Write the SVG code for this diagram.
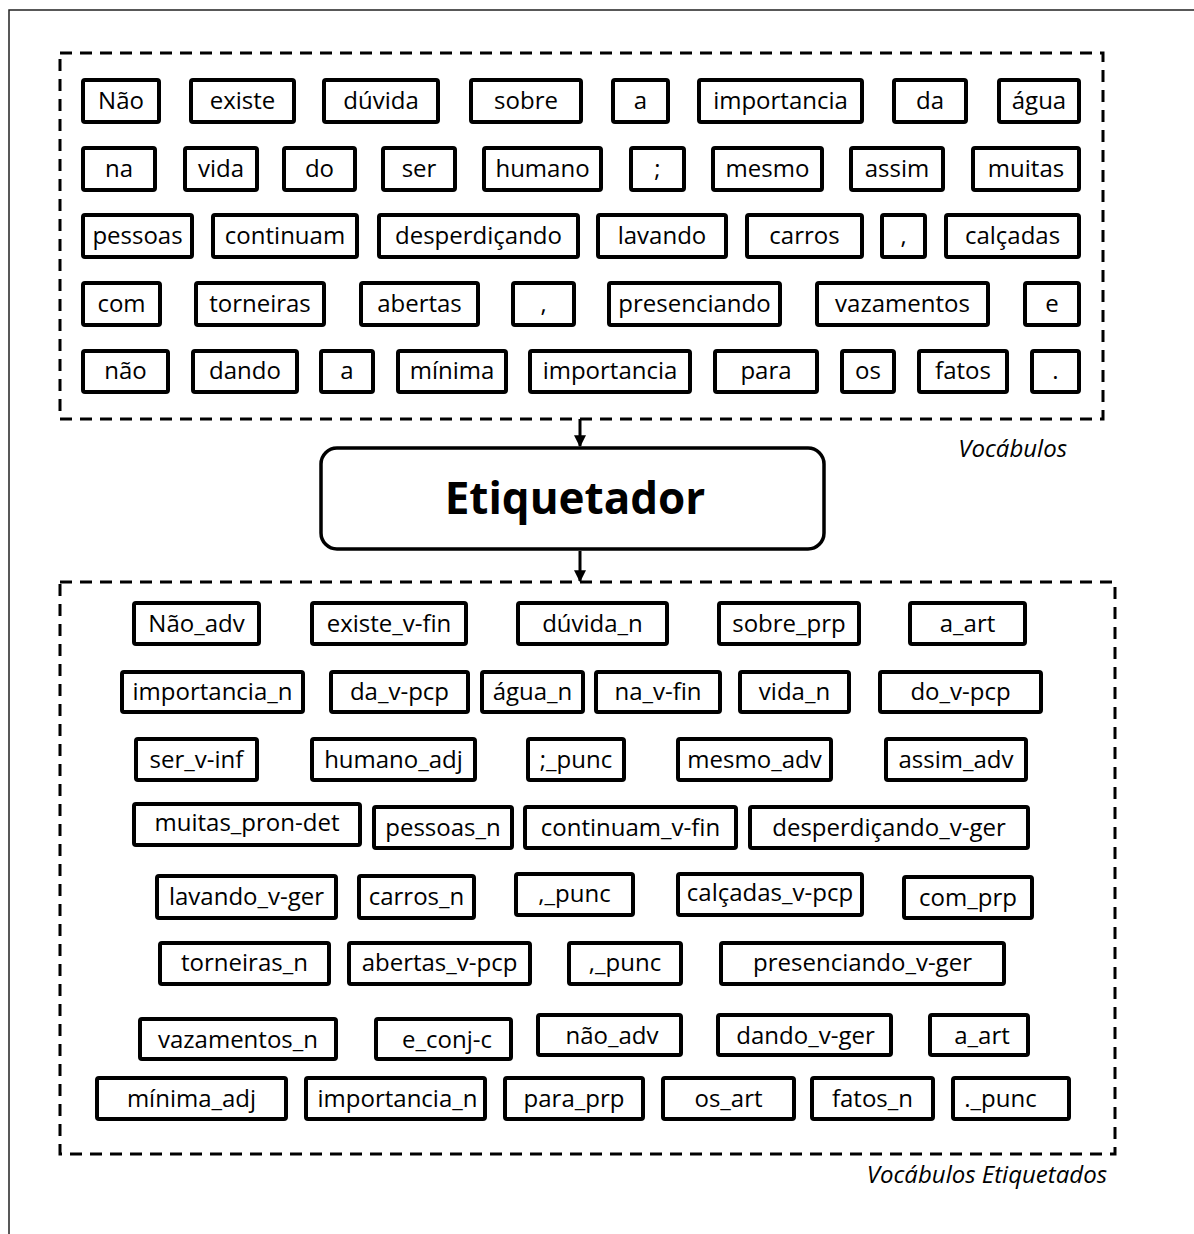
<svg xmlns="http://www.w3.org/2000/svg" width="1194" height="1234" viewBox="0 0 1194 1234">
  <style>
    .frame { fill: none; stroke: #222; stroke-width: 1.5; }
    .group-box { fill: none; stroke: #000; stroke-width: 3; stroke-dasharray: 12 8; }
    .word rect { fill: #fff; stroke: #000; stroke-width: 4; }
    .word text { font-family: "Open Sans", "Liberation Sans", sans-serif; font-size: 24px; fill: #000; text-anchor: middle; }
    .tagger rect { fill: #fff; stroke: #000; stroke-width: 3.5; }
    .tagger text { font-family: "Open Sans", "Liberation Sans", sans-serif; font-size: 44px; font-weight: bold; fill: #000; text-anchor: middle; }
    .caption { font-family: "Open Sans", "Liberation Sans", sans-serif; font-size: 24px; font-style: italic; fill: #000; text-anchor: end; }
    .flow { stroke: #000; stroke-width: 3; fill: none; marker-end: url(#arrow); }
  </style>
  <defs>
    <marker id="arrow" viewBox="0 0 10 10" refX="9" refY="5" markerWidth="4" markerHeight="4" orient="auto" markerUnits="strokeWidth">
      <path d="M0,0 L10,5 L0,10 z" fill="#000"/>
    </marker>
  </defs>

  <rect width="1194" height="1234" fill="#fff"/>
  <!-- page frame -->
  <path class="frame" d="M9,1234 V10 H1194"/>

  <!-- input word group -->
  <g id="vocabulos">
    <rect class="group-box" x="60" y="53" width="1043" height="366"/>
    <text class="caption" x="1067" y="457">Vocábulos</text>

    <!-- row 1 -->
    <g id="w-nao" class="word"><rect x="83" y="80" width="76" height="42" rx="2"/><text x="121" y="109">Não</text></g>
    <g id="w-existe" class="word"><rect x="191" y="80" width="103" height="42" rx="2"/><text x="242.5" y="109">existe</text></g>
    <g id="w-duvida" class="word"><rect x="324" y="80" width="114" height="42" rx="2"/><text x="381" y="109">dúvida</text></g>
    <g id="w-sobre" class="word"><rect x="471" y="80" width="110" height="42" rx="2"/><text x="526" y="109">sobre</text></g>
    <g id="w-a1" class="word"><rect x="613" y="80" width="55" height="42" rx="2"/><text x="640.5" y="109">a</text></g>
    <g id="w-importancia1" class="word"><rect x="699" y="80" width="163" height="42" rx="2"/><text x="780.5" y="109">importancia</text></g>
    <g id="w-da" class="word"><rect x="894" y="80" width="72" height="42" rx="2"/><text x="930" y="109">da</text></g>
    <g id="w-agua" class="word"><rect x="999" y="80" width="80" height="42" rx="2"/><text x="1039" y="109">água</text></g>

    <!-- row 2 -->
    <g id="w-na" class="word"><rect x="83" y="148" width="72" height="42" rx="2"/><text x="119" y="177">na</text></g>
    <g id="w-vida" class="word"><rect x="185" y="148" width="72" height="42" rx="2"/><text x="221" y="177">vida</text></g>
    <g id="w-do" class="word"><rect x="284" y="148" width="71" height="42" rx="2"/><text x="319.5" y="177">do</text></g>
    <g id="w-ser" class="word"><rect x="383" y="148" width="72" height="42" rx="2"/><text x="419" y="177">ser</text></g>
    <g id="w-humano" class="word"><rect x="484" y="148" width="117" height="42" rx="2"/><text x="542.5" y="177">humano</text></g>
    <g id="w-semicolon" class="word"><rect x="631" y="148" width="53" height="42" rx="2"/><text x="657.5" y="177">;</text></g>
    <g id="w-mesmo" class="word"><rect x="713" y="148" width="109" height="42" rx="2"/><text x="767.5" y="177">mesmo</text></g>
    <g id="w-assim" class="word"><rect x="851" y="148" width="92" height="42" rx="2"/><text x="897" y="177">assim</text></g>
    <g id="w-muitas" class="word"><rect x="973" y="148" width="106" height="42" rx="2"/><text x="1026" y="177">muitas</text></g>

    <!-- row 3 -->
    <g id="w-pessoas" class="word"><rect x="83" y="215" width="109" height="42" rx="2"/><text x="137.5" y="244">pessoas</text></g>
    <g id="w-continuam" class="word"><rect x="213" y="215" width="144" height="42" rx="2"/><text x="285" y="244">continuam</text></g>
    <g id="w-desperdicando" class="word"><rect x="379" y="215" width="199" height="42" rx="2"/><text x="478.5" y="244">desperdiçando</text></g>
    <g id="w-lavando" class="word"><rect x="598" y="215" width="128" height="42" rx="2"/><text x="662" y="244">lavando</text></g>
    <g id="w-carros" class="word"><rect x="747" y="215" width="115" height="42" rx="2"/><text x="804.5" y="244">carros</text></g>
    <g id="w-comma1" class="word"><rect x="882" y="215" width="43" height="42" rx="2"/><text x="903.5" y="244">,</text></g>
    <g id="w-calcadas" class="word"><rect x="946" y="215" width="133" height="42" rx="2"/><text x="1012.5" y="244">calçadas</text></g>

    <!-- row 4 -->
    <g id="w-com" class="word"><rect x="83" y="283" width="77" height="42" rx="2"/><text x="121.5" y="312">com</text></g>
    <g id="w-torneiras" class="word"><rect x="196" y="283" width="128" height="42" rx="2"/><text x="260" y="312">torneiras</text></g>
    <g id="w-abertas" class="word"><rect x="361" y="283" width="117" height="42" rx="2"/><text x="419.5" y="312">abertas</text></g>
    <g id="w-comma2" class="word"><rect x="513" y="283" width="61" height="42" rx="2"/><text x="543.5" y="312">,</text></g>
    <g id="w-presenciando" class="word"><rect x="609" y="283" width="171" height="42" rx="2"/><text x="694.5" y="312">presenciando</text></g>
    <g id="w-vazamentos" class="word"><rect x="817" y="283" width="171" height="42" rx="2"/><text x="902.5" y="312">vazamentos</text></g>
    <g id="w-e" class="word"><rect x="1025" y="283" width="54" height="42" rx="2"/><text x="1052" y="312">e</text></g>

    <!-- row 5 -->
    <g id="w-nao2" class="word"><rect x="83" y="351" width="85" height="41" rx="2"/><text x="125.5" y="379">não</text></g>
    <g id="w-dando" class="word"><rect x="193" y="351" width="104" height="41" rx="2"/><text x="245" y="379">dando</text></g>
    <g id="w-a2" class="word"><rect x="321" y="351" width="52" height="41" rx="2"/><text x="347" y="379">a</text></g>
    <g id="w-minima" class="word"><rect x="398" y="351" width="108" height="41" rx="2"/><text x="452" y="379">mínima</text></g>
    <g id="w-importancia2" class="word"><rect x="530" y="351" width="160" height="41" rx="2"/><text x="610" y="379">importancia</text></g>
    <g id="w-para" class="word"><rect x="715" y="351" width="102" height="41" rx="2"/><text x="766" y="379">para</text></g>
    <g id="w-os" class="word"><rect x="842" y="351" width="52" height="41" rx="2"/><text x="868" y="379">os</text></g>
    <g id="w-fatos" class="word"><rect x="919" y="351" width="88" height="41" rx="2"/><text x="963" y="379">fatos</text></g>
    <g id="w-period" class="word"><rect x="1032" y="351" width="47" height="41" rx="2"/><text x="1055.5" y="379">.</text></g>
  </g>

  <!-- tagger -->
  <g id="etiquetador" class="tagger">
    <rect x="321" y="448" width="503" height="101" rx="16"/>
    <text x="575" y="514">Etiquetador</text>
  </g>

  <!-- tagged word group -->
  <g id="vocabulos-etiquetados">
    <rect class="group-box" x="60" y="582" width="1055" height="572"/>
    <text class="caption" x="1107" y="1183">Vocábulos Etiquetados</text>

    <!-- row 1 -->
    <g id="t-nao" class="word"><rect x="134" y="603" width="125" height="41" rx="2"/><text x="196.5" y="632">Não_adv</text></g>
    <g id="t-existe" class="word"><rect x="312" y="603" width="154" height="41" rx="2"/><text x="389" y="632">existe_v-fin</text></g>
    <g id="t-duvida" class="word"><rect x="518" y="603" width="149" height="41" rx="2"/><text x="592.5" y="632">dúvida_n</text></g>
    <g id="t-sobre" class="word"><rect x="719" y="603" width="140" height="41" rx="2"/><text x="789" y="632">sobre_prp</text></g>
    <g id="t-a1" class="word"><rect x="910" y="603" width="115" height="41" rx="2"/><text x="967.5" y="632">a_art</text></g>

    <!-- row 2 -->
    <g id="t-importancia1" class="word"><rect x="122" y="672" width="181" height="40" rx="2"/><text x="212.5" y="700">importancia_n</text></g>
    <g id="t-da" class="word"><rect x="331" y="672" width="137" height="40" rx="2"/><text x="399.5" y="700">da_v-pcp</text></g>
    <g id="t-agua" class="word"><rect x="482" y="672" width="101" height="40" rx="2"/><text x="532.5" y="700">água_n</text></g>
    <g id="t-na" class="word"><rect x="596" y="672" width="124" height="40" rx="2"/><text x="658" y="700">na_v-fin</text></g>
    <g id="t-vida" class="word"><rect x="740" y="672" width="109" height="40" rx="2"/><text x="794.5" y="700">vida_n</text></g>
    <g id="t-do" class="word"><rect x="880" y="672" width="161" height="40" rx="2"/><text x="960.5" y="700">do_v-pcp</text></g>

    <!-- row 3 -->
    <g id="t-ser" class="word"><rect x="136" y="739" width="121" height="41" rx="2"/><text x="196.5" y="768">ser_v-inf</text></g>
    <g id="t-humano" class="word"><rect x="312" y="739" width="163" height="41" rx="2"/><text x="393.5" y="768">humano_adj</text></g>
    <g id="t-semicolon" class="word"><rect x="528" y="739" width="96" height="41" rx="2"/><text x="576" y="768">;_punc</text></g>
    <g id="t-mesmo" class="word"><rect x="678" y="739" width="153" height="41" rx="2"/><text x="754.5" y="768">mesmo_adv</text></g>
    <g id="t-assim" class="word"><rect x="886" y="739" width="140" height="41" rx="2"/><text x="956" y="768">assim_adv</text></g>

    <!-- row 4 -->
    <g id="t-muitas" class="word"><rect x="134" y="804" width="226" height="41" rx="2"/><text x="247" y="831">muitas_pron-det</text></g>
    <g id="t-pessoas" class="word"><rect x="374" y="807" width="138" height="41" rx="2"/><text x="443" y="836">pessoas_n</text></g>
    <g id="t-continuam" class="word"><rect x="525" y="807" width="211" height="41" rx="2"/><text x="630.5" y="836">continuam_v-fin</text></g>
    <g id="t-desperdicando" class="word"><rect x="750" y="807" width="278" height="41" rx="2"/><text x="889" y="836">desperdiçando_v-ger</text></g>

    <!-- row 5 -->
    <g id="t-lavando" class="word"><rect x="157" y="876" width="179" height="42" rx="2"/><text x="246.5" y="905">lavando_v-ger</text></g>
    <g id="t-carros" class="word"><rect x="359" y="876" width="115" height="42" rx="2"/><text x="416.5" y="905">carros_n</text></g>
    <g id="t-comma1" class="word"><rect x="516" y="874" width="117" height="41" rx="2"/><text x="574.5" y="902">,_punc</text></g>
    <g id="t-calcadas" class="word"><rect x="678" y="874" width="184" height="41" rx="2"/><text x="770" y="901">calçadas_v-pcp</text></g>
    <g id="t-com" class="word"><rect x="904" y="877" width="128" height="41" rx="2"/><text x="968" y="906">com_prp</text></g>

    <!-- row 6 -->
    <g id="t-torneiras" class="word"><rect x="160" y="943" width="169" height="41" rx="2"/><text x="244.5" y="971">torneiras_n</text></g>
    <g id="t-abertas" class="word"><rect x="349" y="943" width="181" height="41" rx="2"/><text x="439.5" y="971">abertas_v-pcp</text></g>
    <g id="t-comma2" class="word"><rect x="569" y="943" width="112" height="41" rx="2"/><text x="625" y="971">,_punc</text></g>
    <g id="t-presenciando" class="word"><rect x="721" y="943" width="283" height="41" rx="2"/><text x="862.5" y="971">presenciando_v-ger</text></g>

    <!-- row 7 -->
    <g id="t-vazamentos" class="word"><rect x="140" y="1019" width="196" height="40" rx="2"/><text x="238" y="1048">vazamentos_n</text></g>
    <g id="t-e" class="word"><rect x="376" y="1019" width="135" height="40" rx="2"/><text x="447" y="1048">e_conj-c</text></g>
    <g id="t-nao2" class="word"><rect x="538" y="1015" width="143" height="40" rx="2"/><text x="612" y="1044">não_adv</text></g>
    <g id="t-dando" class="word"><rect x="718" y="1015" width="173" height="40" rx="2"/><text x="805.5" y="1044">dando_v-ger</text></g>
    <g id="t-a2" class="word"><rect x="930" y="1015" width="98" height="40" rx="2"/><text x="982" y="1044">a_art</text></g>

    <!-- row 8 -->
    <g id="t-minima" class="word"><rect x="97" y="1078" width="189" height="41" rx="2"/><text x="191.5" y="1107">mínima_adj</text></g>
    <g id="t-importancia2" class="word"><rect x="306" y="1078" width="179" height="41" rx="2"/><text x="397.5" y="1107">importancia_n</text></g>
    <g id="t-para" class="word"><rect x="505" y="1078" width="138" height="41" rx="2"/><text x="574" y="1107">para_prp</text></g>
    <g id="t-os" class="word"><rect x="663" y="1078" width="131" height="41" rx="2"/><text x="728.5" y="1107">os_art</text></g>
    <g id="t-fatos" class="word"><rect x="812" y="1078" width="121" height="41" rx="2"/><text x="872.5" y="1107">fatos_n</text></g>
    <g id="t-period" class="word"><rect x="953" y="1078" width="116" height="41" rx="2"/><text x="1000.5" y="1107">._punc</text></g>
  </g>

  <!-- connectors -->
  <g id="connectors">
    <line class="flow" x1="580" y1="419" x2="580" y2="446"/>
    <line class="flow" x1="580" y1="551" x2="580" y2="581"/>
  </g>
</svg>
